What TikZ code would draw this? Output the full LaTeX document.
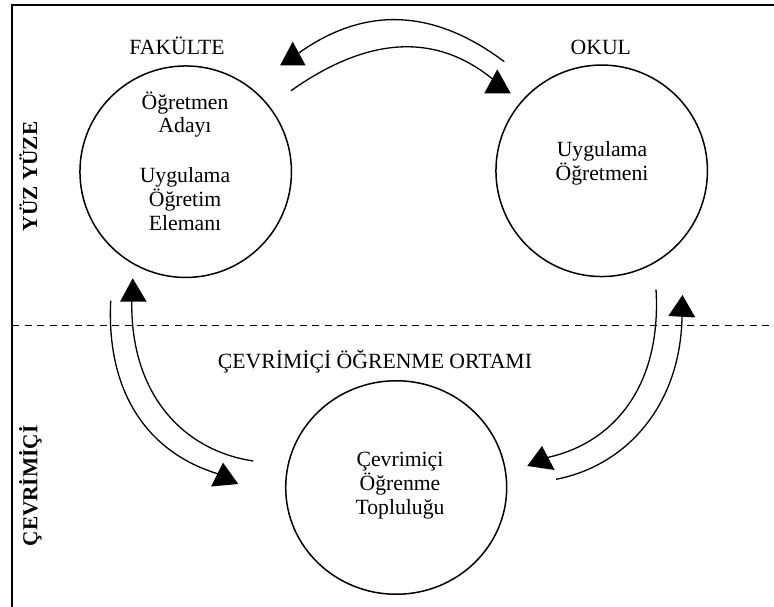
\documentclass[tikz,border=0pt]{standalone}
\usepackage{fontspec}
\setmainfont{Liberation Serif}
\usetikzlibrary{shapes.geometric}
\begin{document}
\begin{tikzpicture}[x=1pt,y=-1pt,
  lbl/.style={font=\fontsize{21.7}{23.5}\selectfont, inner sep=0pt, anchor=base},
  side/.style={font=\fontsize{21.3}{23.5}\selectfont\bfseries, inner sep=0pt, anchor=base, rotate=90},
  ring/.style={draw, line width=1.5pt, circle, inner sep=0pt, minimum size=211.5pt},
  oval/.style={draw, line width=1.5pt, ellipse, inner sep=0pt, minimum width=221pt, minimum height=213.5pt},
  flow/.style={line width=1.3pt},
  head/.style={fill=black},
  frame/.style={line width=2pt},
  divider/.style={line width=1.4pt, dash pattern=on 7pt off 5.5pt}]
\useasboundingbox (0,0) rectangle (774,607);
% frame and divider
\draw[frame] (11.5,607) -- (11.5,5) -- (774,5);
\coordinate (dl) at (12,325.7);
\coordinate (dr) at (774,325.7);
\draw[divider] (dl) -- (dr);
% side labels
\node[side] (yy) at (37,176.5) {YÜZ YÜZE};
\node[side] (cv) at (37.3,486) {ÇEVRİMİÇİ};
% circles
\node[ring] (fak) at (185.7,171.7) {};
\node[ring] (okul) at (601.7,170.8) {};
\node[oval] (com) at (396.2,487.5) {};
% headings
\node[lbl] (hfak) at (177,55) {FAKÜLTE};
\node[lbl] (hokul) at (600.8,54.3) {OKUL};
\node[lbl] (hcom) at (375,368.3) {ÇEVRİMİÇİ ÖĞRENME ORTAMI};
% circle texts
\node[lbl] (f1) at (185,110) {Öğretmen};
\node[lbl] (f2) at (185,132.7) {Adayı};
\node[lbl] (f3) at (185,182.7) {Uygulama};
\node[lbl] (f4) at (185,206) {Öğretim};
\node[lbl] (f5) at (185,230) {Elemanı};
\node[lbl] (o1) at (602,157) {Uygulama};
\node[lbl] (o2) at (602,180) {Öğretmeni};
\node[lbl] (c1) at (400,466.7) {Çevrimiçi};
\node[lbl] (c2) at (400,490) {Öğrenme};
\node[lbl] (c3) at (400,514) {Topluluğu};
% arc end points
\coordinate (a1s) at (504.3,61.7);
\coordinate (a1e) at (296,55);
\coordinate (a2s) at (291,90.7);
\coordinate (a2e) at (495,81);
\coordinate (a3s) at (253.3,461);
\coordinate (a3e) at (132,295);
\coordinate (a4s) at (110.7,300.7);
\coordinate (a4e) at (222,475);
\coordinate (a5s) at (656,289.3);
\coordinate (a5e) at (545,458);
\coordinate (a6s) at (556,479.3);
\coordinate (a6e) at (682,308);
% arcs
\draw[flow] (a1s) .. controls (432.8,7.9) and (363.3,5.7) .. (a1e);
\draw[flow] (a2s) .. controls (369,35.6) and (437,32.3) .. (a2e);
\draw[flow] (a3s) .. controls (180,450) and (128,390) .. (a3e);
\draw[flow] (a4s) .. controls (106,395) and (150,455) .. (a4e);
\draw[flow] (a5s) .. controls (662,390) and (610,445) .. (a5e);
\draw[flow] (a6s) .. controls (630,465) and (684,400) .. (a6e);
% arrowheads
\fill[head] (292.7,41.7) -- (280,65.5) -- (305.7,65.5) -- cycle;
\fill[head] (497.3,69.3) -- (484.3,93.3) -- (510.7,93.3) -- cycle;
\fill[head] (132.7,278.3) -- (120,301.7) -- (146.7,301.7) -- cycle;
\fill[head] (223,462.7) -- (211,486.5) -- (238.3,484) -- cycle;
\fill[head] (542,446) -- (527.3,466) -- (554.7,470) -- cycle;
\fill[head] (682.5,295) -- (668.3,316) -- (695.3,317.5) -- cycle;
\end{tikzpicture}
\end{document}
